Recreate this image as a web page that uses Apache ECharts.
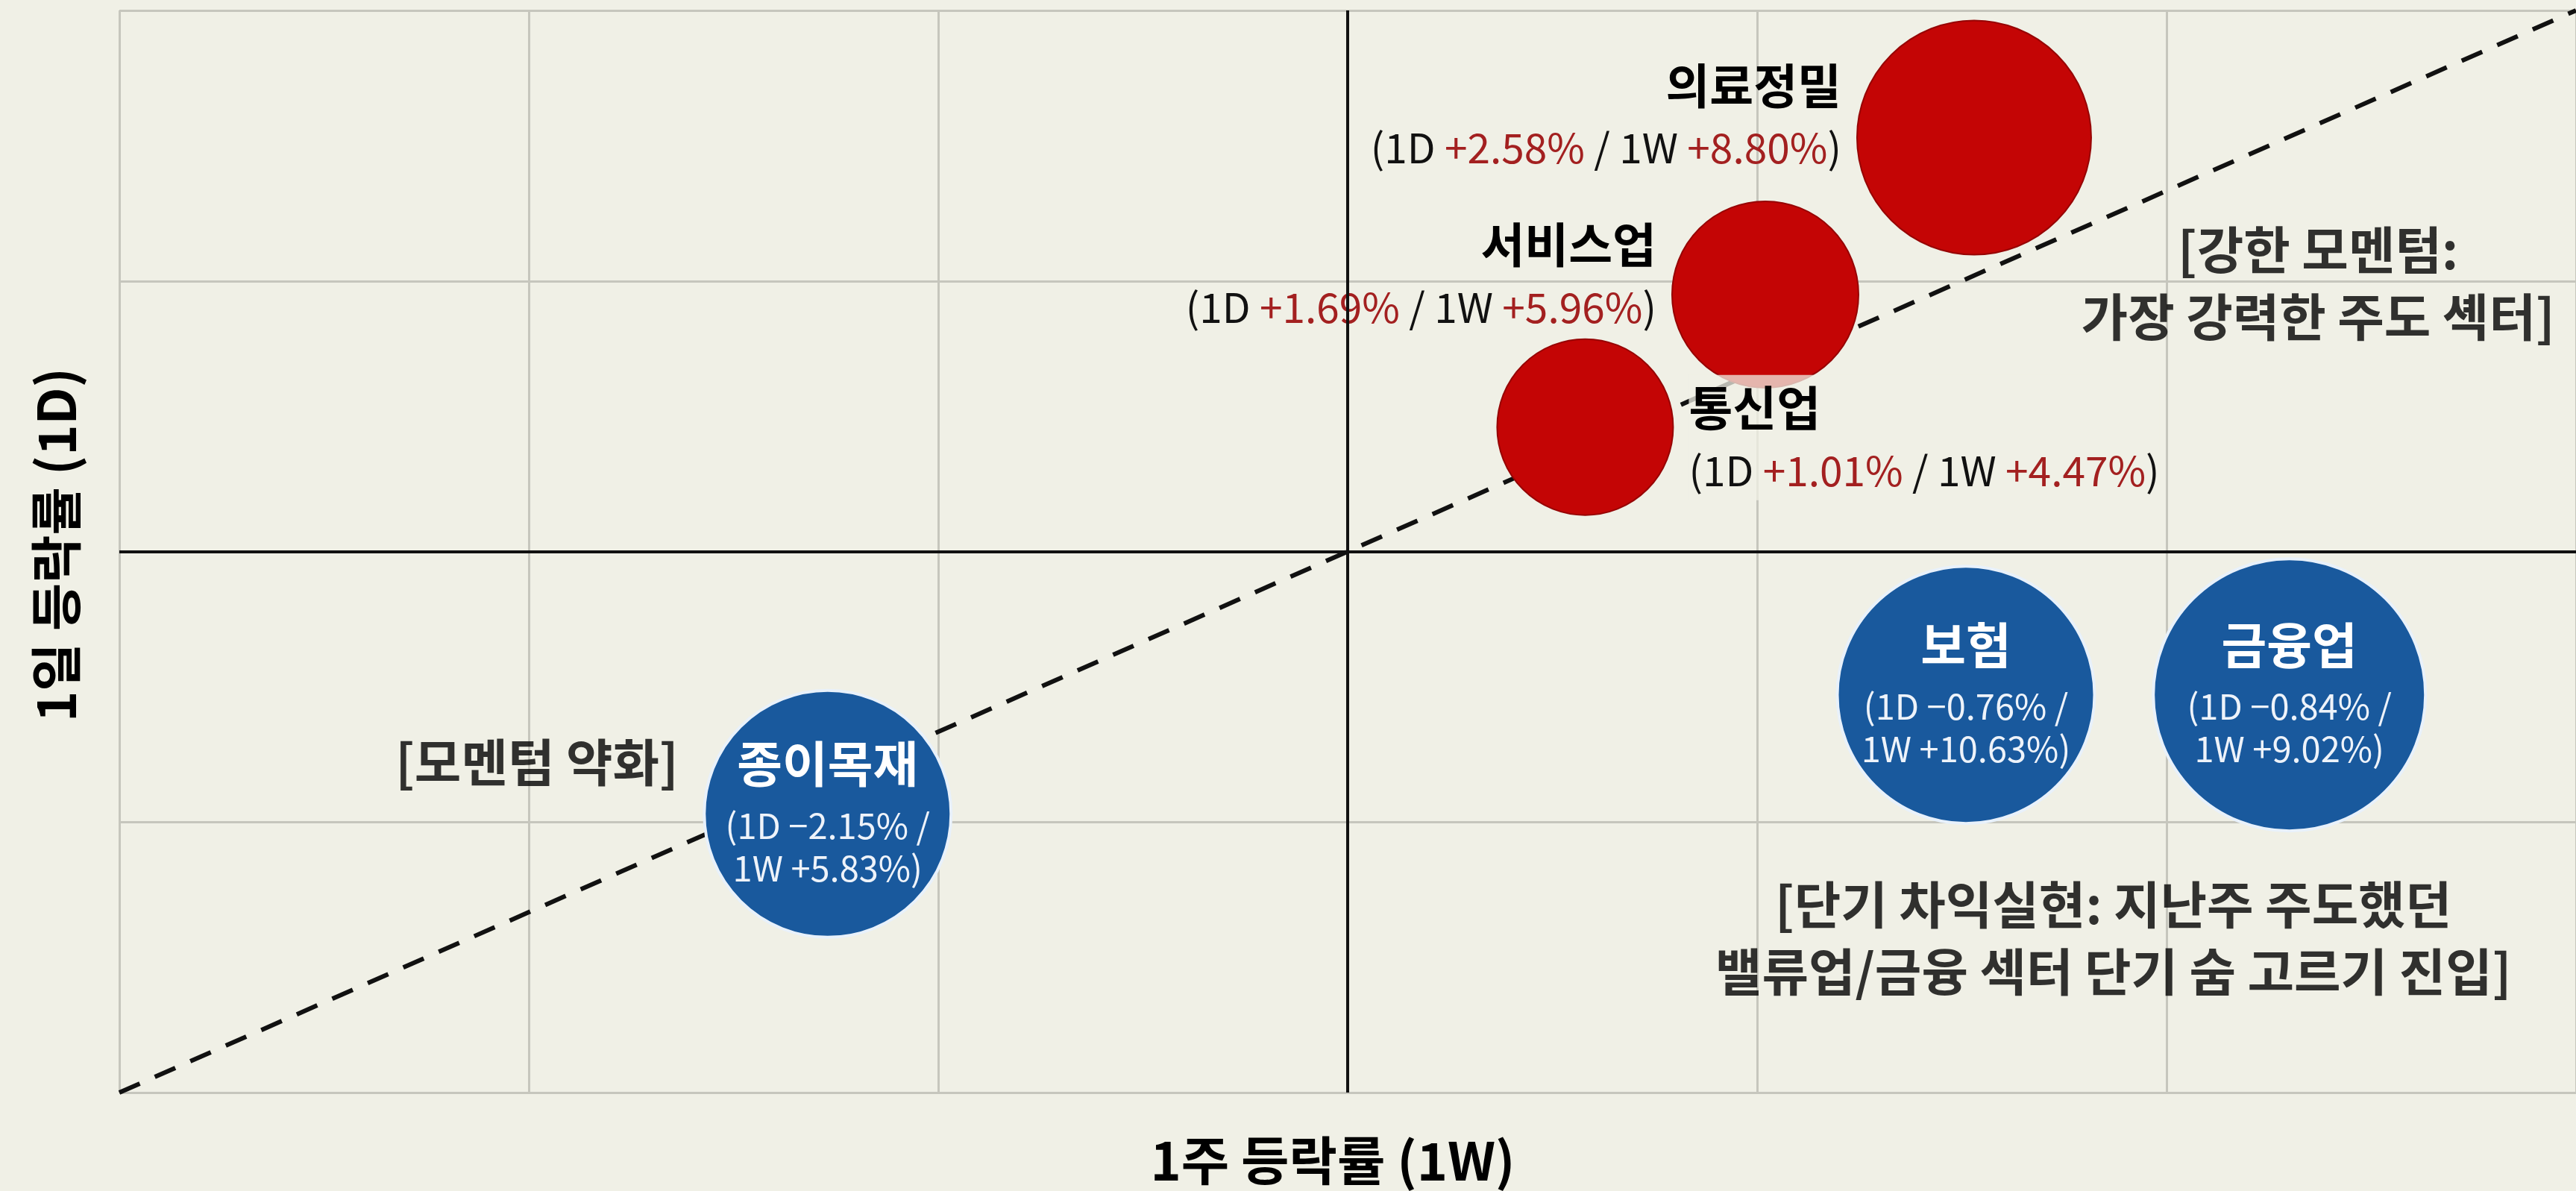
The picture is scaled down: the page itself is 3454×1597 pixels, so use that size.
<!DOCTYPE html>
<html>
<head>
<meta charset="utf-8">
<title>섹터 모멘텀</title>
<script src="https://cdn.jsdelivr.net/npm/echarts@6/dist/echarts.min.js"></script>
<style>
  html, body { margin: 0; padding: 0; background: #f0f0e6; }
  #chart { width: 3454px; height: 1597px; }
</style>
</head>
<body>
<div id="chart"></div>
<script>
// 섹터
const sectors = ['의료정밀', '서비스업', '통신업', '보험', '금융업', '종이목재']
// 라벨에 표시되는 등락률 (%)
const change1D = [2.58, 1.69, 1.01, -0.76, -0.84, -2.15]
const change1W = [8.80, 5.96, 4.47, 10.63, 9.02, 5.83]
// 그림 위 버블 위치 (개념도 좌표)
const posX = [1.53, 1.02, 0.58, 1.51, 2.30, -1.27]
const posY = [1.53, 0.95, 0.46, -0.53, -0.53, -0.97]
// 버블 크기 가중치
const weight = [31.4, 25.0, 23.6, 34.5, 36.5, 33.1]
// 강세 / 조정 구분
const group = ['up', 'up', 'up', 'down', 'down', 'down']

// 대각 추세선
const trendX = [-3, 3]
const trendY = [-2, 2]

// 주석
const notes = [
  '[강한 모멘텀:\n가장 강력한 주도 셱터]',
  '[모멘텀 약화]',
  '[단기 차익실현: 지난주 주도했던\n밸류업/금융 섹터 단기 숨 고르기 진입]'
]
const noteX = [2.37, -1.98, 1.87]
const noteY = [0.99, -0.78, -1.43]

const FONT = '"Noto Sans CJK KR", "Noto Sans", sans-serif'

// 빨간 버블 라벨 배치
const redLayout = {
  '의료정밀': { side: 'left', shift: -30 },
  '서비스업': { side: 'left', shift: -27 },
  '통신업': { side: 'right', shift: 14 }
}

const fmt = v => (v >= 0 ? '+' : '−') + Math.abs(v).toFixed(2) + '%'

const redLabel = i => {
  const lay = redLayout[sectors[i]]
  return {
    show: true,
    position: lay.side,
    distance: 20,
    offset: [0, lay.shift],
    align: lay.side === 'left' ? 'right' : 'left',
    formatter: `{name|${sectors[i]}}\n{p|(1D }{v|${fmt(change1D[i])}}{p| / 1W }{v|${fmt(change1W[i])}}{p|)}`,
    backgroundColor: lay.side === 'right' ? 'rgba(240,240,230,0.75)' : 'transparent',
    rich: {
      name: { fontFamily: FONT, fontSize: 64, fontWeight: 'bold', color: '#000', lineHeight: 88 },
      p: { fontFamily: FONT, fontSize: 55, color: '#111', lineHeight: 80 },
      v: { fontFamily: FONT, fontSize: 55, color: '#a32020', lineHeight: 80 }
    }
  }
}

const blueLabel = i => ({
  show: true,
  position: 'inside',
  offset: [0, -10],
  align: 'center',
  formatter: `{name|${sectors[i]}}\n{w|(1D ${fmt(change1D[i])} /}\n{w|1W ${fmt(change1W[i])})}`,
  rich: {
    name: { fontFamily: FONT, fontSize: 66, fontWeight: 'bold', color: '#ffffff', lineHeight: 108 },
    w: { fontFamily: FONT, fontSize: 47, color: '#eef3fa', lineHeight: 57 }
  }
})

const bubbleData = sectors.map((name, i) => ({
  name,
  value: [posX[i], posY[i], weight[i]],
  itemStyle: group[i] === 'up'
    ? { color: '#c40505', borderColor: '#960404', borderWidth: 2, opacity: 1 }
    : { color: '#19599d', borderColor: '#e8f1fb', borderWidth: 4, opacity: 1 },
  label: group[i] === 'up' ? redLabel(i) : blueLabel(i)
}))

const noteData = notes.map((t, i) => [noteX[i], noteY[i], t])

const chart = echarts.init(document.getElementById('chart'))

const axisCommon = {
  type: 'value',
  interval: 1,
  axisLine: { show: false, onZero: false },
  axisTick: { show: false },
  axisLabel: { show: false },
  splitLine: { show: true, lineStyle: { color: '#c6c6bd', width: 3 } },
  nameLocation: 'middle',
  nameTextStyle: { fontFamily: FONT, fontSize: 70, fontWeight: 'bold', color: '#000' }
}

const option = {
  backgroundColor: '#f0f0e6',
  animation: false,
  grid: { left: 160, right: 0, top: 14, bottom: 132 },
  xAxis: {
    ...axisCommon, min: -3, max: 3, name: '1주 등락률 (1W)', nameGap: 56,
    nameTextStyle: { ...axisCommon.nameTextStyle, padding: [0, 40, 0, 0] }
  },
  yAxis: {
    ...axisCommon, min: -2, max: 2, name: '1일 등락률 (1D)', nameGap: 50, nameRotate: 90,
    nameTextStyle: { ...axisCommon.nameTextStyle, padding: [0, 0, 0, 18] }
  },
  series: [
    {
      type: 'line',
      silent: true,
      z: 2,
      symbol: 'none',
      data: trendX.map((x, i) => [x, trendY[i]]),
      lineStyle: { color: '#111', width: 6, type: [30, 22] },
      markLine: {
        silent: true,
        symbol: 'none',
        label: { show: false },
        lineStyle: { color: '#111', width: 4, type: 'solid' },
        data: [{ xAxis: 0 }, { yAxis: 0 }]
      }
    },
    {
      type: 'scatter',
      z: 3,
      data: bubbleData,
      symbolSize: v => v[2] * 10
    },
    {
      type: 'scatter',
      z: 4,
      silent: true,
      symbolSize: 1,
      itemStyle: { color: 'transparent' },
      data: noteData,
      label: {
        show: true,
        position: 'inside',
        align: 'center',
        verticalAlign: 'middle',
        formatter: p => p.value[2],
        fontFamily: FONT,
        fontSize: 68,
        fontWeight: 'bold',
        lineHeight: 90,
        color: '#000'
      }
    }
  ]
}

chart.setOption(option)
window.addEventListener('resize', () => chart.resize())
</script>
</body>
</html>
